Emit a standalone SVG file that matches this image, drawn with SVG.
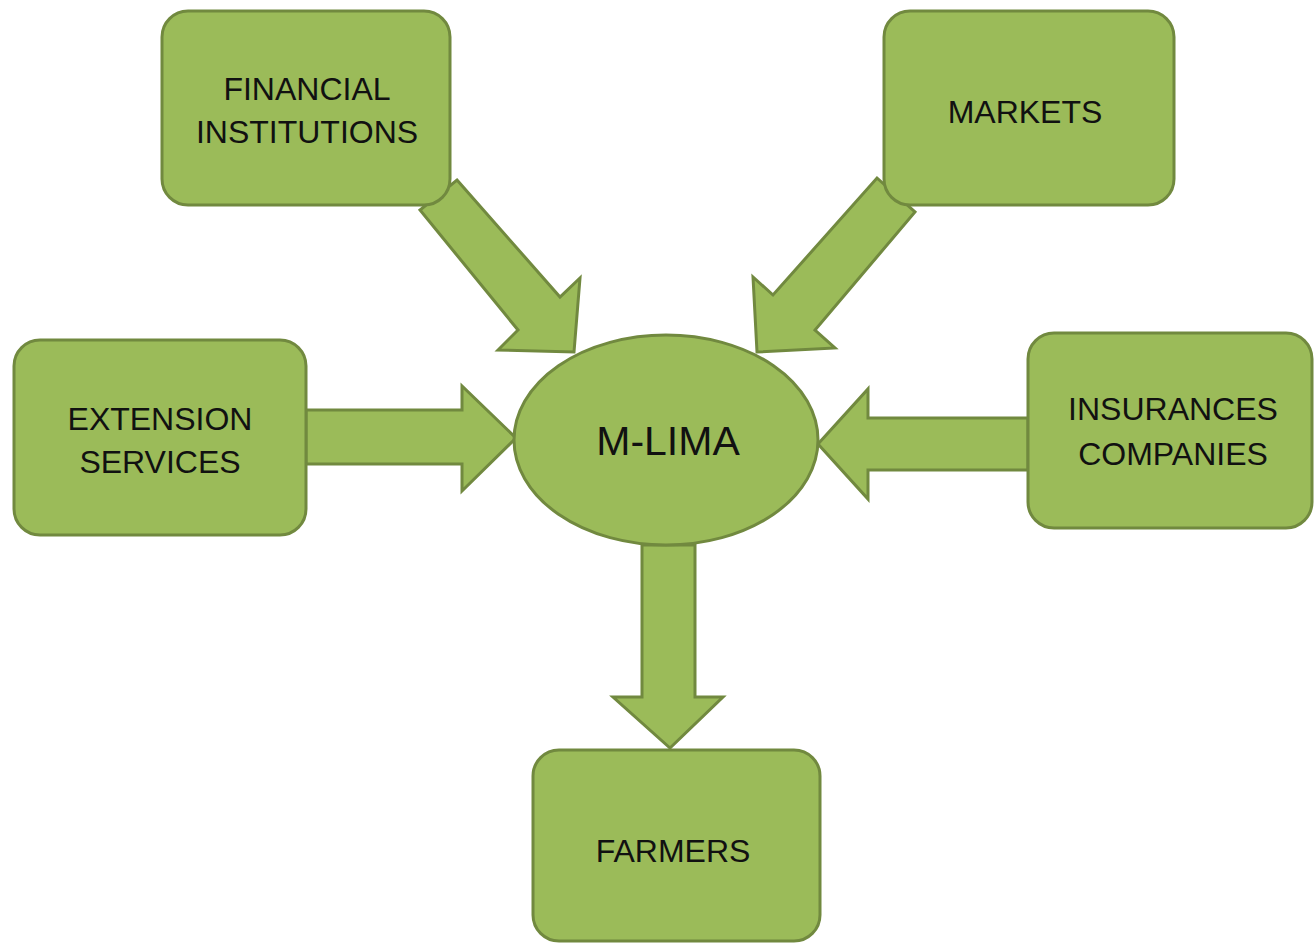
<svg xmlns="http://www.w3.org/2000/svg" width="1314" height="943" viewBox="0 0 1314 943">
<style>
.shape{fill:#9bbb59;stroke:#71893f;stroke-width:3;stroke-linejoin:miter}
.lbl{font-family:"Liberation Sans",Arial,sans-serif;font-size:32px;fill:#111;text-anchor:middle}
.big{font-size:41px}
</style>
<rect width="1314" height="943" fill="#ffffff"/>
<g id="connectors">
<polygon class="shape" points="457,180 560,297 580,278 574,352 498,350 518,330 420,210"/>
<polygon class="shape" points="877,178 915,212 815,330 835,348 757,352 753,277 773,295"/>
<polygon class="shape" points="306,410 462,410 462,386 516,438 462,491 462,464 306,464"/>
<polygon class="shape" points="1028,418 868,418 868,389 818,444 868,499 868,470 1028,470"/>
<polygon class="shape" points="642,545 695,545 695,697 723,697 670,748 613,697 642,697"/>
</g>
<g id="node-financial">
<rect class="shape" x="162" y="11" width="288" height="194" rx="26"/>
<text class="lbl" x="307" y="100">FINANCIAL</text>
<text class="lbl" x="307" y="143">INSTITUTIONS</text>
</g>
<g id="node-markets">
<rect class="shape" x="884" y="11" width="290" height="194" rx="26"/>
<text class="lbl" x="1025" y="123">MARKETS</text>
</g>
<g id="node-extension">
<rect class="shape" x="14" y="340" width="292" height="195" rx="26"/>
<text class="lbl" x="160" y="430">EXTENSION</text>
<text class="lbl" x="160" y="473">SERVICES</text>
</g>
<g id="node-insurances">
<rect class="shape" x="1028" y="333" width="284" height="195" rx="26"/>
<text class="lbl" x="1173" y="420">INSURANCES</text>
<text class="lbl" x="1173" y="465">COMPANIES</text>
</g>
<g id="node-mlima">
<ellipse class="shape" cx="666" cy="440" rx="152" ry="105"/>
<text class="lbl big" x="668" y="455">M-LIMA</text>
</g>
<g id="node-farmers">
<rect class="shape" x="533" y="750" width="287" height="191" rx="26"/>
<text class="lbl" x="673" y="862">FARMERS</text>
</g>
</svg>
